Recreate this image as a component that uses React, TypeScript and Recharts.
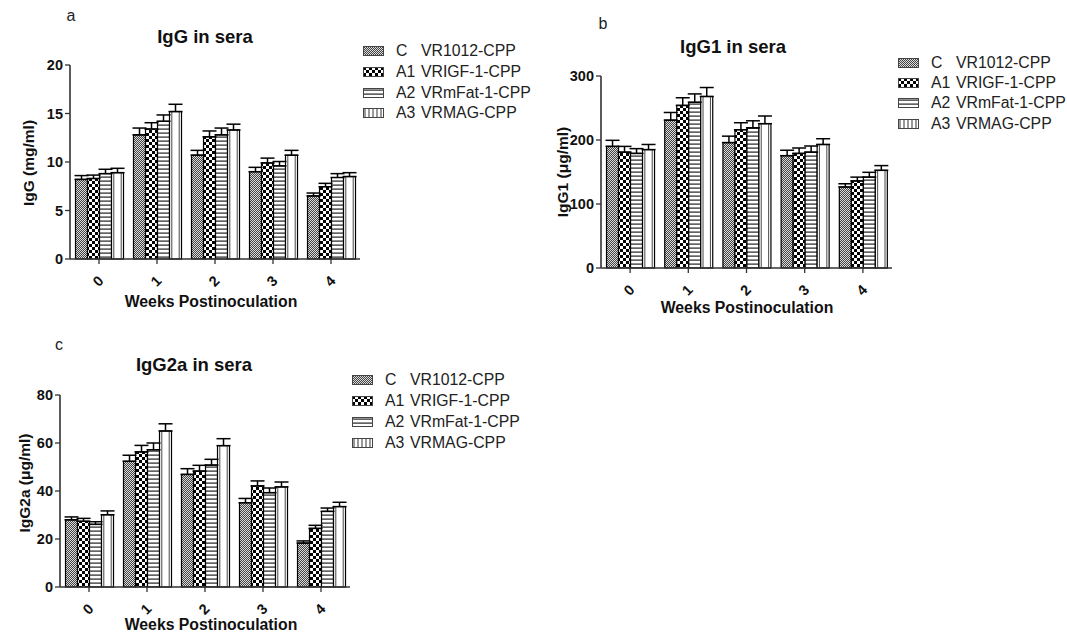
import React from 'react';
import { BarChart, Bar, XAxis, YAxis, ErrorBar } from 'recharts';

const weeks = ['0', '1', '2', '3', '4'];
const groupCodes = ['C', 'A1', 'A2', 'A3'];
const groupNames = ['VR1012-CPP', 'VRIGF-1-CPP', 'VRmFat-1-CPP', 'VRMAG-CPP'];

// Panel a: IgG (mg/ml)
const iggC = [8.2, 12.8, 10.7, 9.0, 6.5];
const iggA1 = [8.3, 13.4, 12.6, 9.9, 7.45];
const iggA2 = [8.8, 14.2, 12.8, 9.6, 8.4];
const iggA3 = [8.9, 15.2, 13.3, 10.7, 8.5];
const iggErrC = [0.4, 0.7, 0.5, 0.45, 0.3];
const iggErrA1 = [0.35, 0.65, 0.6, 0.5, 0.35];
const iggErrA2 = [0.45, 0.65, 0.7, 0.45, 0.4];
const iggErrA3 = [0.45, 0.75, 0.6, 0.5, 0.4];
const iggTicks = [0, 5, 10, 15, 20];

// Panel b: IgG1 (ug/ml)
const igg1C = [190, 231, 196, 175.5, 126.6];
const igg1A1 = [181, 254, 216, 179, 136];
const igg1A2 = [179, 259, 219, 181, 142];
const igg1A3 = [185, 268, 225.5, 193, 152.6];
const igg1ErrC = [9.5, 12, 10, 8.5, 5];
const igg1ErrA1 = [9, 12, 11, 8.5, 6];
const igg1ErrA2 = [7.5, 13, 11, 9.6, 7.5];
const igg1ErrA3 = [8, 14, 12, 9, 7.4];
const igg1Ticks = [0, 100, 200, 300];

// Panel c: IgG2a (ug/ml)
const igg2aC = [28, 52.4, 46.9, 35.1, 18.3];
const igg2aA1 = [27.4, 56.3, 48.3, 42.1, 24.4];
const igg2aA2 = [26.1, 57.2, 50.8, 39.3, 31.5];
const igg2aA3 = [30.1, 65, 58.9, 41.7, 33.5];
const igg2aErrC = [1.2, 2.5, 2.4, 1.8, 0.9];
const igg2aErrA1 = [1.2, 2.7, 2.4, 2.1, 1.3];
const igg2aErrA2 = [1.1, 2.8, 2.4, 1.95, 1.4];
const igg2aErrA3 = [1.6, 3, 2.9, 2.05, 1.8];
const igg2aTicks = [0, 20, 40, 60, 80];

const FONT = '"Liberation Sans", Arial, Helvetica, sans-serif';

function buildRows(m: number[][], e: number[][]) {
  return weeks.map((w, i) => ({
    week: w,
    C: m[0][i], A1: m[1][i], A2: m[2][i], A3: m[3][i],
    eC: [0, e[0][i]], eA1: [0, e[1][i]], eA2: [0, e[2][i]], eA3: [0, e[3][i]],
  }));
}

const fills = ['url(#pC)', 'url(#pA1)', 'url(#pA2)', 'url(#pA3bar)'];
const legendFills = ['url(#pC)', 'url(#pA1)', 'url(#pA2)', 'url(#pA3)'];

const XTick = (props: any) => {
  const { x, y, payload } = props;
  return (
    <g transform={`translate(${x - 1},${y + 15})`}>
      <text transform="rotate(-45)" textAnchor="middle" dominantBaseline="central"
        fontFamily={FONT} fontWeight="bold" fontSize={14.5} fill="#111">{payload.value}</text>
    </g>
  );
};

const A3Shape = (props: any) => {
  const { x, y, width, height } = props;
  if (!height || height <= 0) return null;
  return (
    <g>
      <rect x={x} y={y} width={width} height={height} fill="#fff" stroke="#000" strokeWidth={1.2} />
      <line x1={x + 2.3} y1={y} x2={x + 2.3} y2={y + height} stroke="#333" strokeWidth={0.9} />
      <line x1={x + width - 2.3} y1={y} x2={x + width - 2.3} y2={y + height} stroke="#333" strokeWidth={0.9} />
    </g>
  );
};

type PanelCfg = {
  rows: any[];
  ticks: number[];
  plotLeft: number; plotTop: number; plotW: number; plotH: number;
  letter: string; letterX: number; letterY: number;
  title: string; titleX: number; titleY: number;
  yLabel: string; yLabelX: number; yLabelY: number;
  xLabelX: number; xLabelY: number;
  legendX: number; legendY: number; legendStep: number;
};

const abs = (x: number, y: number): React.CSSProperties => ({
  position: 'absolute', left: x, top: y, transform: 'translate(-50%,-50%)', whiteSpace: 'nowrap', fontFamily: FONT,
});

function Panel({ cfg }: { cfg: PanelCfg }) {
  const yW = 50;
  const mTop = 10;
  const mRight = 5;
  const xH = 40;
  const left = cfg.plotLeft - yW;
  const top = cfg.plotTop - mTop;
  const width = yW + cfg.plotW + mRight;
  const height = mTop + cfg.plotH + xH;
  const max = cfg.ticks[cfg.ticks.length - 1];
  return (
    <>
      <div style={{ position: 'absolute', left, top }}>
        <BarChart width={width} height={height} data={cfg.rows}
          margin={{ top: mTop, right: mRight, bottom: 0, left: 0 }}
          barCategoryGap="9.5%" barGap={0}>
          <XAxis dataKey="week" height={xH} tick={<XTick />} tickSize={5}
            axisLine={{ stroke: '#333', strokeWidth: 1.6 }} tickLine={{ stroke: '#333', strokeWidth: 1.3 }} />
          <YAxis width={yW} domain={[0, max]} ticks={cfg.ticks} tickSize={5} interval={0}
            axisLine={{ stroke: '#333', strokeWidth: 1.6 }} tickLine={{ stroke: '#333', strokeWidth: 1.3 }}
            tick={{ fontFamily: FONT, fontWeight: 'bold', fontSize: 14.5, fill: '#111' }} />
          {groupCodes.map((k, i) => (
            <Bar key={k} dataKey={k} fill={fills[i]} stroke="#000" strokeWidth={1.2}
              isAnimationActive={false} shape={k === 'A3' ? <A3Shape /> : undefined}>
              <ErrorBar dataKey={'e' + k} width={7} stroke="#000" strokeWidth={1.5} direction="y" />
            </Bar>
          ))}
        </BarChart>
      </div>
      <div style={{ ...abs(cfg.letterX, cfg.letterY), fontSize: 16, color: '#222' }}>{cfg.letter}</div>
      <div style={{ ...abs(cfg.titleX, cfg.titleY), fontSize: 18.5, fontWeight: 'bold', color: '#111' }}>{cfg.title}</div>
      <div style={{ ...abs(cfg.yLabelX, cfg.yLabelY), transform: 'translate(-50%,-50%) rotate(-90deg)', fontSize: 15.5, fontWeight: 'bold', color: '#111' }}>{cfg.yLabel}</div>
      <div style={{ ...abs(cfg.xLabelX, cfg.xLabelY), fontSize: 15.8, fontWeight: 'bold', color: '#111' }}>Weeks Postinoculation</div>
      {groupCodes.map((k, i) => (
        <div key={k} style={{ position: 'absolute', left: cfg.legendX, top: cfg.legendY + i * cfg.legendStep - 9, height: 18, display: 'flex', alignItems: 'center', fontFamily: FONT, fontSize: 15.8, color: '#222', whiteSpace: 'nowrap' }}>
          <svg width={21} height={10} style={{ display: 'block' }}>
            <rect x={0.5} y={0.5} width={20} height={9} fill={legendFills[i]} stroke="#444" strokeWidth={1} />
          </svg>
          <span style={{ display: 'inline-block', width: 12 }} />
          <span style={{ display: 'inline-block', width: 25 }}>{k}</span>
          <span>{groupNames[i]}</span>
        </div>
      ))}
    </>
  );
}

const panelA: PanelCfg = {
  rows: buildRows([iggC, iggA1, iggA2, iggA3], [iggErrC, iggErrA1, iggErrA2, iggErrA3]),
  ticks: iggTicks, plotLeft: 70, plotTop: 65, plotW: 290, plotH: 194,
  letter: 'a', letterX: 71, letterY: 16, title: 'IgG in sera', titleX: 205, titleY: 37,
  yLabel: 'IgG (mg/ml)', yLabelX: 29, yLabelY: 163, xLabelX: 211, xLabelY: 302,
  legendX: 363, legendY: 51, legendStep: 20.8,
};
const panelB: PanelCfg = {
  rows: buildRows([igg1C, igg1A1, igg1A2, igg1A3], [igg1ErrC, igg1ErrA1, igg1ErrA2, igg1ErrA3]),
  ticks: igg1Ticks, plotLeft: 601, plotTop: 76, plotW: 291, plotH: 192,
  letter: 'b', letterX: 603, letterY: 24, title: 'IgG1 in sera', titleX: 733, titleY: 47,
  yLabel: 'IgG1 (μg/ml)', yLabelX: 563, yLabelY: 172, xLabelX: 747, xLabelY: 308,
  legendX: 898, legendY: 63, legendStep: 20.2,
};
const panelC: PanelCfg = {
  rows: buildRows([igg2aC, igg2aA1, igg2aA2, igg2aA3], [igg2aErrC, igg2aErrA1, igg2aErrA2, igg2aErrA3]),
  ticks: igg2aTicks, plotLeft: 60, plotTop: 395, plotW: 290, plotH: 192,
  letter: 'c', letterX: 59, letterY: 345, title: 'IgG2a in sera', titleX: 194, titleY: 365,
  yLabel: 'IgG2a (μg/ml)', yLabelX: 25, yLabelY: 483, xLabelX: 211, xLabelY: 625,
  legendX: 352, legendY: 380, legendStep: 21,
};

export default function App() {
  return (
    <div style={{ position: 'absolute', left: 0, top: 0, width: 1067, height: 635, background: '#fff', overflow: 'hidden' }}>
      <svg width={0} height={0} style={{ position: 'absolute' }}>
        <defs>
          <pattern id="pC" width={2} height={2} patternUnits="userSpaceOnUse">
            <rect width={2} height={2} fill="#dcdcdc" />
            <rect width={1} height={1} fill="#444" />
            <rect x={1} y={1} width={1} height={1} fill="#444" />
          </pattern>
          <pattern id="pA1" width={6} height={6} patternUnits="userSpaceOnUse">
            <rect width={6} height={6} fill="#fff" />
            <rect width={3} height={3} fill="#000" />
            <rect x={3} y={3} width={3} height={3} fill="#000" />
          </pattern>
          <pattern id="pA2" width={4} height={4} patternUnits="userSpaceOnUse">
            <rect width={4} height={4} fill="#fff" />
            <rect y={1.5} width={4} height={1.2} fill="#222" />
          </pattern>
          <pattern id="pA3" width={4} height={4} patternUnits="userSpaceOnUse">
            <rect width={4} height={4} fill="#fff" />
            <rect x={1.5} width={1} height={4} fill="#333" />
          </pattern>
          <pattern id="pA3bar" width={4} height={4} patternUnits="userSpaceOnUse">
            <rect width={4} height={4} fill="#fff" />
          </pattern>
        </defs>
      </svg>
      <Panel cfg={panelA} />
      <Panel cfg={panelB} />
      <Panel cfg={panelC} />
    </div>
  );
}
